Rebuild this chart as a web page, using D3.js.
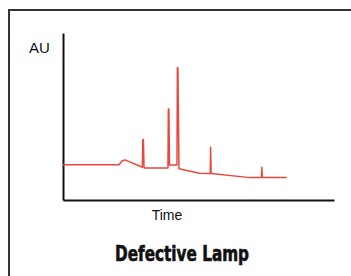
<!DOCTYPE html>
<html>
<head>
<meta charset="utf-8">
<script src="https://cdn.jsdelivr.net/npm/d3@7"></script>
<style>
  html, body { margin: 0; padding: 0; background: #fff; }
  svg { display: block; }
</style>
</head>
<body>
<div id="chart"></div>
<script>
// chromatogram trace (time in min, absorbance in AU)
const times = [0, 6.20, 6.53, 6.86, 8.78, 8.84, 8.90, 8.97, 11.62, 11.66, 11.72, 11.79, 12.62, 12.66, 12.72, 12.84, 15.11, 16.30, 16.34, 16.40, 20.70, 21.97, 22.01, 22.07, 24.76];
const absorb = [0.211, 0.211, 0.234, 0.240, 0.196, 0.363, 0.363, 0.192, 0.192, 0.545, 0.545, 0.210, 0.210, 0.792, 0.792, 0.187, 0.160, 0.159, 0.316, 0.159, 0.134, 0.134, 0.196, 0.134, 0.134];

const yLabel = "AU";
const xLabel = "Time";
const title = "Defective Lamp";

const width = 351, height = 276;
const x0 = 63, x1 = 334, y0 = 200, y1 = 33;

const svg = d3.select("#chart").append("svg")
    .attr("width", width)
    .attr("height", height);

// frame (top and left edges only visible)
svg.append("path")
    .attr("d", `M9,276 V10 H351`)
    .attr("fill", "none")
    .attr("stroke", "#333")
    .attr("stroke-width", 2);

const xScale = d3.scaleLinear().domain([0, 30]).range([x0, x1]);
const yScale = d3.scaleLinear().domain([0, 1]).range([y0, y1]);

svg.append("g")
    .attr("transform", `translate(0,${y0})`)
    .call(d3.axisBottom(xScale).ticks(0).tickSizeOuter(0))
    .call(g => g.select(".domain").attr("stroke", "#111").attr("stroke-width", 2));

svg.append("g")
    .attr("transform", `translate(${x0},0)`)
    .call(d3.axisLeft(yScale).ticks(0).tickSizeOuter(0))
    .call(g => g.select(".domain").attr("stroke", "#111").attr("stroke-width", 2));

const pts = times.map((t, i) => [t, absorb[i]]);

svg.append("path")
    .datum(pts)
    .attr("fill", "none")
    .attr("stroke", "#e8483e")
    .attr("stroke-width", 1.5)
    .attr("stroke-linejoin", "round")
    .attr("d", d3.line().x(d => xScale(d[0])).y(d => yScale(d[1])));

svg.append("text")
    .attr("x", 29)
    .attr("y", 53)
    .attr("font-family", "Liberation Sans, Arial, sans-serif")
    .attr("font-size", "15px")
    .attr("fill", "#111")
    .text(yLabel);

svg.append("text")
    .attr("x", 167)
    .attr("y", 220)
    .attr("text-anchor", "middle")
    .attr("font-family", "Liberation Sans, Arial, sans-serif")
    .attr("font-size", "14px")
    .attr("fill", "#111")
    .text(xLabel);

svg.append("text")
    .attr("x", 115)
    .attr("y", 261)
    .attr("font-family", "Liberation Sans Narrow, DejaVu Sans Condensed, Liberation Sans, sans-serif")
    .attr("font-size", "21px")
    .attr("font-weight", "bold")
    .attr("textLength", 134)
    .attr("lengthAdjust", "spacingAndGlyphs")
    .attr("fill", "#111")
    .attr("stroke", "#111")
    .attr("stroke-width", 0.6)
    .text(title);
</script>
</body>
</html>
